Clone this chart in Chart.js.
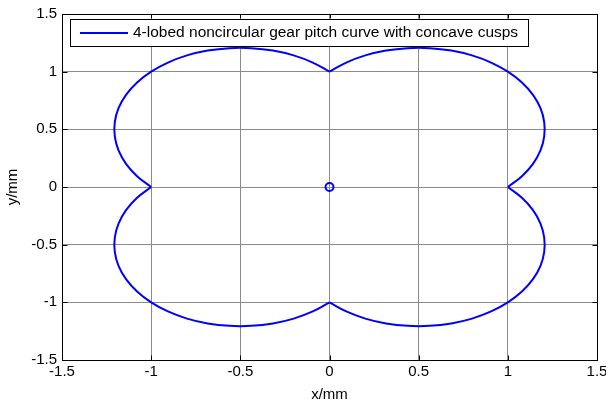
<!DOCTYPE html>
<html>
<head>
<meta charset="utf-8">
<script src="https://cdn.jsdelivr.net/npm/chart.js@4.4.0/dist/chart.umd.min.js"></script>
<style>
  html, body { margin: 0; padding: 0; background: #fff; }
  #wrap { width: 606px; height: 408px; }
</style>
</head>
<body>
<div id="wrap"><canvas id="gearChart" width="606" height="408"></canvas></div>
<script>
// pitch curve points (mm), starting at the right cusp, going counter-clockwise
const curveX = [
  1.000, 1.079, 1.141, 1.183, 1.204, 1.204, 1.183, 1.141, 1.079, 1.000,
  0.906, 0.799, 0.683, 0.562, 0.438, 0.317, 0.201, 0.094, 0.000,
  -0.094, -0.201, -0.317, -0.438, -0.562, -0.683, -0.799, -0.906, -1.000,
  -1.079, -1.141, -1.183, -1.204, -1.204, -1.183, -1.141, -1.079, -1.000,
  -1.079, -1.141, -1.183, -1.204, -1.204, -1.183, -1.141, -1.079, -1.000,
  -0.906, -0.799, -0.683, -0.562, -0.438, -0.317, -0.201, -0.094, 0.000,
  0.094, 0.201, 0.317, 0.438, 0.562, 0.683, 0.799, 0.906, 1.000,
  1.079, 1.141, 1.183, 1.204, 1.204, 1.183, 1.141, 1.079, 1.000
];
const curveY = [
  0.000, 0.094, 0.201, 0.317, 0.438, 0.562, 0.683, 0.799, 0.906, 1.000,
  1.079, 1.141, 1.183, 1.204, 1.204, 1.183, 1.141, 1.079, 1.000,
  1.079, 1.141, 1.183, 1.204, 1.204, 1.183, 1.141, 1.079, 1.000,
  0.906, 0.799, 0.683, 0.562, 0.438, 0.317, 0.201, 0.094, 0.000,
  -0.094, -0.201, -0.317, -0.438, -0.562, -0.683, -0.799, -0.906, -1.000,
  -1.079, -1.141, -1.183, -1.204, -1.204, -1.183, -1.141, -1.079, -1.000,
  -1.079, -1.141, -1.183, -1.204, -1.204, -1.183, -1.141, -1.079, -1.000,
  -0.906, -0.799, -0.683, -0.562, -0.438, -0.317, -0.201, -0.094, 0.000
];
// index where each lobe starts/ends (the cusps)
const cuspIdx = [0, 18, 36, 54, 72];
// centre marker
const centerX = [0];
const centerY = [0];
const axisMin = -1.5;
const axisMax = 1.5;
const axisStep = 0.5;
const curveLabel = '4-lobed noncircular gear pitch curve with concave cusps';

const FONT = 'Liberation Sans, Arial, sans-serif';
const FSIZE = 15;

const toPoints = (xs, ys) => xs.map((x, i) => ({ x: x, y: ys[i] }));

// box round the plot plus the small inward tick marks, and the legend inside the axes
const framePlugin = {
  id: 'frame',
  afterDraw(chart) {
    const ctx = chart.ctx;
    const a = chart.chartArea;
    const xs = chart.scales.x, ys = chart.scales.y;
    ctx.save();
    ctx.strokeStyle = '#000';
    ctx.lineWidth = 1;
    const L = Math.round(a.left) + 0.5, R = Math.round(a.right) + 0.5;
    const T = Math.round(a.top) + 0.5, B = Math.round(a.bottom) + 0.5;
    ctx.beginPath();
    xs.ticks.forEach(t => {
      const px = Math.round(xs.getPixelForValue(t.value)) + 0.5;
      ctx.moveTo(px, T); ctx.lineTo(px, T + 4);
      ctx.moveTo(px, B); ctx.lineTo(px, B - 5);
    });
    ys.ticks.forEach(t => {
      const py = Math.round(ys.getPixelForValue(t.value)) + 0.5;
      ctx.moveTo(L, py); ctx.lineTo(L + 5, py);
      ctx.moveTo(R, py); ctx.lineTo(R - 5, py);
    });
    ctx.stroke();
    ctx.strokeRect(L, T, R - L, B - T);

    // legend
    const lx = 70.5, ly = 19.5, lw = 458, lh = 27;
    ctx.fillStyle = '#fff';
    ctx.fillRect(lx, ly, lw, lh);
    ctx.strokeStyle = '#000';
    ctx.strokeRect(lx, ly, lw, lh);
    ctx.strokeStyle = '#0000ff';
    ctx.lineWidth = 2;
    ctx.beginPath();
    ctx.moveTo(80, 33);
    ctx.lineTo(128, 33);
    ctx.stroke();
    ctx.fillStyle = '#000';
    ctx.font = '15.5px ' + FONT;
    ctx.textBaseline = 'middle';
    ctx.textAlign = 'left';
    ctx.fillText(chart.data.datasets[0].label, 133, 33);
    ctx.restore();
  }
};

document.addEventListener('DOMContentLoaded', function () {
  const ctx = document.getElementById('gearChart').getContext('2d');

  // one dataset per lobe so the smoothing keeps the cusps sharp
  const lobes = [];
  for (let k = 0; k < 4; k++) {
    const a = cuspIdx[k], b = cuspIdx[k + 1] + 1;
    lobes.push({
      label: k === 0 ? curveLabel : '',
      data: toPoints(curveX.slice(a, b), curveY.slice(a, b)),
      showLine: true,
      borderColor: '#0000ff',
      borderWidth: 2,
      pointRadius: 0,
      tension: 0.4,
      fill: false
    });
  }

  new Chart(ctx, {
    type: 'scatter',
    data: {
      datasets: lobes.concat([{
        label: 'centre',
        data: toPoints(centerX, centerY),
        showLine: false,
        pointStyle: 'circle',
        pointRadius: 4,
        borderColor: '#0000ff',
        backgroundColor: 'rgba(0,0,0,0)',
        borderWidth: 2
      }])
    },
    options: {
      responsive: false,
      animation: false,
      layout: { padding: { top: 11, right: 9, left: 0, bottom: 0 } },
      plugins: {
        legend: { display: false },
        tooltip: { enabled: false }
      },
      scales: {
        x: {
          type: 'linear',
          min: axisMin,
          max: axisMax,
          ticks: {
            stepSize: axisStep,
            color: '#000',
            padding: 3,
            font: { family: FONT, size: FSIZE },
            callback: v => String(v)
          },
          grid: { color: '#8c8c8c', drawTicks: false, tickLength: 0 },
          border: { display: false },
          title: {
            display: true,
            text: 'x/mm',
            color: '#000',
            font: { family: FONT, size: FSIZE },
            padding: { top: 0, bottom: 4 }
          },
          afterFit(scale) {
            scale.height = 48;
            scale.paddingLeft = 0;
            scale.paddingRight = 0;
          }
        },
        y: {
          type: 'linear',
          min: axisMin,
          max: axisMax,
          ticks: {
            stepSize: axisStep,
            color: '#000',
            padding: 5,
            font: { family: FONT, size: FSIZE },
            callback: v => String(v)
          },
          grid: { color: '#8c8c8c', drawTicks: false, tickLength: 0 },
          border: { display: false },
          title: {
            display: true,
            text: 'y/mm',
            color: '#000',
            font: { family: FONT, size: FSIZE },
            padding: { top: 4, bottom: 0 }
          },
          afterFit(scale) { scale.width = 62; }
        }
      }
    },
    plugins: [framePlugin]
  });
});
</script>
</body>
</html>
